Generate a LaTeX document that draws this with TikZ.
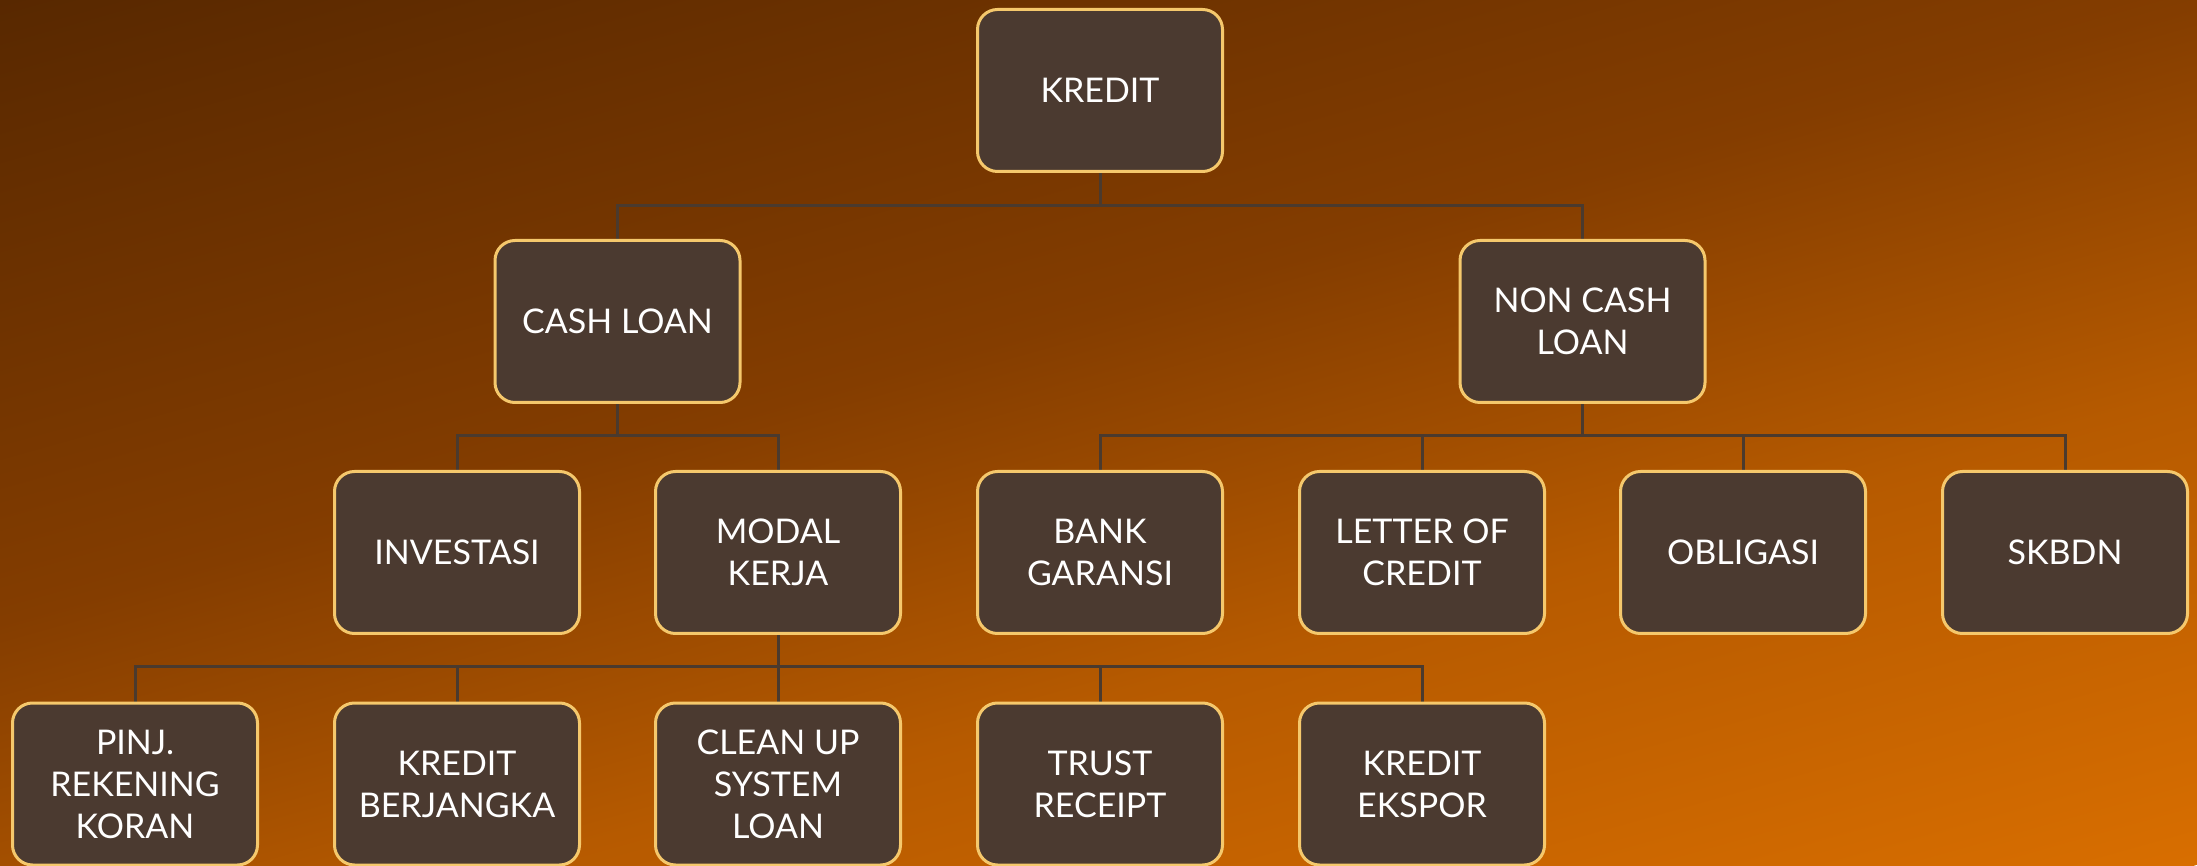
\documentclass[tikz,border=0pt]{standalone}
\usepackage{fontspec}
\setmainfont{Lato}
\definecolor{bgA}{HTML}{582800}
\definecolor{bgB}{HTML}{843D00}
\definecolor{bgC}{HTML}{B65A00}
\definecolor{bgD}{HTML}{D86E00}
\definecolor{boxfill}{HTML}{4B3A30}
\definecolor{boxedge}{HTML}{F5C86C}
\definecolor{linkc}{HTML}{4A3A2E}
% linear ramp; the 25bp..75bp part is what gets stretched over the path
\pgfdeclarehorizontalshading{bgramp}{100bp}{color(0bp)=(bgA); color(25bp)=(bgA); color(46bp)=(bgB); color(59bp)=(bgC); color(75bp)=(bgD); color(100bp)=(bgD)}
\pgfdeclarelayer{backdrop}
\pgfdeclarelayer{links}
\pgfsetlayers{backdrop,links,main}
\begin{document}
\begin{tikzpicture}[x=1pt,y=1pt,
  box/.style={draw=boxedge, line width=3pt, fill=boxfill, rounded corners=20pt,
    minimum width=245pt, minimum height=162pt, inner sep=0pt,
    text=white, align=center, font=\fontsize{34}{42}\selectfont},
  link/.style={draw=linkc, line width=3pt}]
\useasboundingbox (0,0) rectangle (2197,865);

% background gradient
\begin{pgfonlayer}{backdrop}
\begin{scope}
  \clip (0,0) rectangle (2197,865);
  \begin{scope}[transform canvas={shift={(1098.5,432.5)},rotate=-74.3}]
    \shade[shading=bgramp] (-713.5,-1300) rectangle (713.5,1300);
  \end{scope}
\end{scope}
\end{pgfonlayer}

% level 0
\node[box] (kredit) at (1100,774.5) {KREDIT};
% level 1
\node[box] (cash)    at (617.5,543.5) {CASH LOAN};
\node[box] (noncash) at (1582.5,543.5) {NON CASH\\LOAN};
% level 2
\node[box] (inv)   at (457,312.5)  {INVESTASI};
\node[box] (modal) at (778,312.5)  {MODAL\\KERJA};
\node[box] (bank)  at (1100,312.5) {BANK\\GARANSI};
\node[box] (loc)   at (1422,312.5) {LETTER OF\\CREDIT};
\node[box] (obl)   at (1743,312.5) {OBLIGASI};
\node[box] (skbdn) at (2065,312.5) {SKBDN};
% level 3
\node[box] (prk)   at (135,81)  {PINJ.\\REKENING\\KORAN};
\node[box] (kb)    at (457,81)  {KREDIT\\BERJANGKA};
\node[box] (cusl)  at (778,81)  {CLEAN UP\\SYSTEM\\LOAN};
\node[box] (trust) at (1100,81) {TRUST\\RECEIPT};
\node[box] (ekspor) at (1422,81) {KREDIT\\EKSPOR};

% connectors
\begin{pgfonlayer}{links}
\foreach \c in {cash,noncash}
  \draw[link] (kredit.south) -- ++(0,-33) -| (\c.north);
\foreach \c in {inv,modal}
  \draw[link] (cash.south) -- ++(0,-32) -| (\c.north);
\foreach \c in {bank,loc,obl,skbdn}
  \draw[link] (noncash.south) -- ++(0,-32) -| (\c.north);
\foreach \c in {prk,kb,cusl,trust,ekspor}
  \draw[link] (modal.south) -- ++(0,-32) -| (\c.north);
\end{pgfonlayer}
\end{tikzpicture}
\end{document}
